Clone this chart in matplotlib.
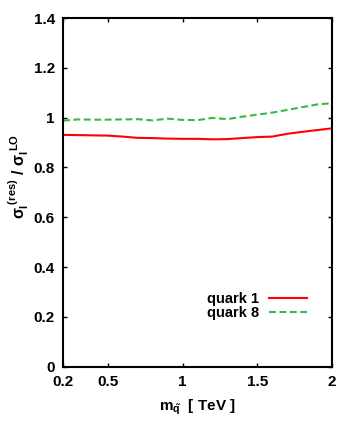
import numpy as np
import matplotlib
matplotlib.use('Agg')
import matplotlib.pyplot as plt

plt.rcParams['font.family'] = 'Liberation Sans'
plt.rcParams['font.weight'] = 'bold'
plt.rcParams['mathtext.fontset'] = 'custom'
plt.rcParams['mathtext.rm'] = 'Liberation Sans:bold'
plt.rcParams['mathtext.it'] = 'Liberation Sans:bold'
plt.rcParams['mathtext.bf'] = 'Liberation Sans:bold'
plt.rcParams['mathtext.sf'] = 'Liberation Sans:bold'

# squark mass [TeV]
mass = [0.2, 0.3, 0.4, 0.5, 0.6, 0.7, 0.8, 0.9, 1.0, 1.1,
        1.2, 1.3, 1.4, 1.5, 1.6, 1.7, 1.8, 1.9, 2.0]
quark1 = [0.931, 0.930, 0.929, 0.928, 0.924, 0.919, 0.918, 0.916, 0.915, 0.915,
          0.913, 0.914, 0.918, 0.922, 0.924, 0.935, 0.943, 0.950, 0.957]
quark8 = [0.988, 0.993, 0.992, 0.992, 0.993, 0.994, 0.989, 0.996, 0.991, 0.990,
          0.999, 0.994, 1.004, 1.012, 1.020, 1.031, 1.042, 1.053, 1.058]

xticks = [0.2, 0.5, 1, 1.5, 2]
xticklabels = ['0.2', '0.5', '1', '1.5', '2']
yticks = [0, 0.2, 0.4, 0.6, 0.8, 1, 1.2, 1.4]
yticklabels = ['0', '0.2', '0.4', '0.6', '0.8', '1', '1.2', '1.4']

fig = plt.figure(figsize=(3.41, 4.29), dpi=100)
ax = fig.add_axes([0.185, 0.145, 0.788, 0.813])

ax.plot(mass, quark1, color='#ff0000', lw=1.5, label='quark 1')
ax.plot(mass, quark8, color='#3cb944', lw=1.5, dashes=(3.3, 1.7), label='quark 8')

ax.set_xlim(0.2, 2)
ax.set_ylim(0, 1.4)
ax.set_xticks(xticks)
ax.set_xticklabels(xticklabels, fontsize=11, fontweight='bold')
ax.set_yticks(yticks)
ax.set_yticklabels(yticklabels, fontsize=11, fontweight='bold')
ax.tick_params(direction='in', length=3, width=1, top=True, right=True, pad=6)
for s in ax.spines.values():
    s.set_linewidth(1.5)

ax.set_xlabel(r'$m_{\tilde{q}}$  [ TeV ]', fontsize=11, fontweight='bold', labelpad=6)
ax.set_ylabel(r'$\sigma_l^{\,\,(res)}$ / $\sigma_l^{\,\,LO}$', fontsize=11.5, fontweight='bold')
ax.yaxis.set_label_coords(-0.12, 0.545)

ax.legend(loc='lower right', bbox_to_anchor=(0.907, 0.133), frameon=False,
          markerfirst=False, handlelength=2.6, handletextpad=0.7,
          borderpad=0, borderaxespad=0, labelspacing=0.0,
          prop={'weight': 'bold', 'size': 10.5})

fig.savefig('out.png', dpi=100)
